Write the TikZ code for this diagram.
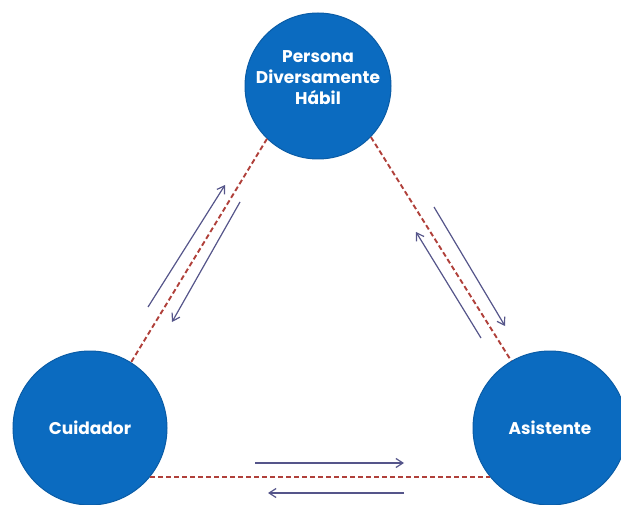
\documentclass[tikz,border=0pt]{standalone}
\usepackage{fontspec}
\setmainfont{Poppins}
\usetikzlibrary{arrows.meta}
\definecolor{circblue}{HTML}{0B6BC0}
\definecolor{circedge}{HTML}{0A5CA6}
\definecolor{dashred}{HTML}{B0403A}
\definecolor{arrowcol}{HTML}{55558A}
\tikzset{
  role/.style={circle, fill=circblue, draw=circedge, line width=1pt, minimum size=154pt, inner sep=0pt,
    text=white, font=\fontsize{17}{21}\selectfont\bfseries, align=center},
  link/.style={draw=dashred, dash pattern=on 5pt off 3pt, line width=1.9pt},
  flow/.style={draw=arrowcol, line width=1.2pt, -{Straight Barb[length=7pt,width=9pt]}}
}
\begin{document}
\begin{tikzpicture}[x=1pt,y=-1pt]
\useasboundingbox (0,0) rectangle (621,505);
\clip (0,0) rectangle (621,505);
\node[role, minimum size=146pt] (pdh) at (318,86) {Persona\\Diversamente\\Hábil\\[-5pt]};
\node[role] (cui) at (90,428) {Cuidador};
\node[role] (asi) at (550,428) {Asistente};
\draw[link] (pdh.226) -- (cui.58);
\draw[link] (pdh.316) -- (asi.120);
\draw[link] (cui.321) -- (asi.219);
% flow arrows
\coordinate (a1s) at (148,307); \coordinate (a1e) at (225,185);
\coordinate (a2s) at (240,202); \coordinate (a2e) at (172,322);
\coordinate (a3s) at (434,207); \coordinate (a3e) at (505,326);
\coordinate (a4s) at (481,338); \coordinate (a4e) at (416,232);
\coordinate (a5s) at (255,463); \coordinate (a5e) at (404,463);
\coordinate (a6s) at (404,493); \coordinate (a6e) at (268,493);
\draw[flow] (a1s) -- (a1e);
\draw[flow] (a2s) -- (a2e);
\draw[flow] (a3s) -- (a3e);
\draw[flow] (a4s) -- (a4e);
\draw[flow] (a5s) -- (a5e);
\draw[flow] (a6s) -- (a6e);
\end{tikzpicture}
\end{document}
